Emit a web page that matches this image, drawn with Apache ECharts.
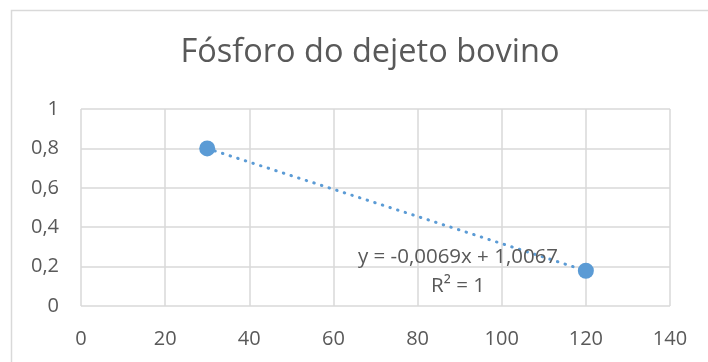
<!DOCTYPE html>
<html>
<head>
<meta charset="utf-8">
<script src="https://cdn.jsdelivr.net/npm/echarts@6/dist/echarts.min.js"></script>
<style>
  html, body { margin: 0; padding: 0; background: #fff; }
  #chart { width: 708px; height: 362px; }
</style>
</head>
<body>
<div id="chart"></div>
<script>
// Measured points: x value and phosphorus fraction
const xValues = [30, 120];
const yValues = [0.8, 0.179];

// Linear trendline coefficients (as shown in the equation label)
const trendSlope = -0.0069;
const trendIntercept = 1.0067;
const trendLabel = 'y = -0,0069x + 1,0067';
const r2Label = 'R² = 1';

const titleText = 'Fósforo do dejeto bovino';

const FONT = '"Open Sans", sans-serif';
const GREY = '#595959';
const BLUE = '#5B9BD5';
const GRID = '#d9d9d9';

const points = xValues.map((x, i) => [x, yValues[i]]);
const trendPoints = [xValues[0], xValues[xValues.length - 1]].map(x => [x, trendSlope * x + trendIntercept]);

const fmt = v => String(+v.toFixed(2)).replace('.', ',');

const chart = echarts.init(document.getElementById('chart'), null, { renderer: 'canvas' });
chart.setOption({
  animation: false,
  backgroundColor: '#fff',
  title: {
    text: titleText,
    left: 365,
    textAlign: 'center',
    top: 31,
    textStyle: { fontFamily: FONT, fontSize: 32.5, fontWeight: 'normal', color: GREY }
  },
  grid: { left: 81, right: 38, top: 109, bottom: 56, containLabel: false },
  xAxis: {
    type: 'value', min: 0, max: 140, interval: 20,
    axisLine: { show: false },
    axisTick: { show: false },
    splitLine: { show: true, lineStyle: { color: GRID, width: 1.5 } },
    axisLabel: { fontFamily: FONT, fontSize: 20, color: GREY, margin: 23, formatter: fmt }
  },
  yAxis: {
    type: 'value', min: 0, max: 1, interval: 0.2,
    axisLine: { show: false },
    axisTick: { show: false },
    splitLine: { show: true, lineStyle: { color: GRID, width: 1.5 } },
    axisLabel: { fontFamily: FONT, fontSize: 20, color: GREY, margin: 22, formatter: fmt }
  },
  series: [
    {
      type: 'line',
      data: trendPoints,
      symbol: 'none',
      lineStyle: { color: BLUE, width: 3, type: [0.5, 7.5], cap: 'round' },
      z: 2
    },
    {
      type: 'scatter',
      data: points,
      symbolSize: 16,
      itemStyle: { color: BLUE, opacity: 1 },
      z: 3
    }
  ],
  graphic: [
    {
      type: 'rect',
      shape: { x: 11.5, y: 10.5, width: 720, height: 380 },
      style: { fill: 'none', stroke: GRID, lineWidth: 1.5 },
      silent: true
    },
    {
      type: 'text', x: 458, y: 257, z: 10,
      style: { text: trendLabel, font: '20.5px ' + FONT, fill: GREY, align: 'center', verticalAlign: 'middle' }
    },
    {
      type: 'text', x: 458, y: 286, z: 10,
      style: { text: r2Label, font: '20.5px ' + FONT, fill: GREY, align: 'center', verticalAlign: 'middle' }
    }
  ]
});
</script>
</body>
</html>
